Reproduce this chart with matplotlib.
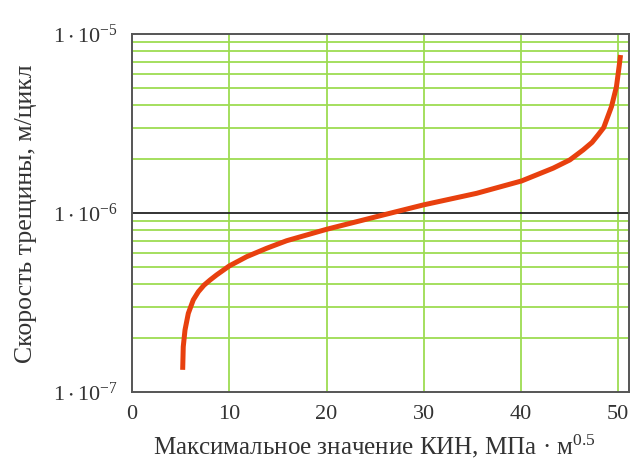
import matplotlib
matplotlib.use("Agg")
import matplotlib.pyplot as plt
from matplotlib.ticker import FixedLocator, NullFormatter

plt.rcParams['font.family'] = ['Liberation Serif', 'DejaVu Serif']
plt.rcParams['mathtext.fontset'] = 'custom'
plt.rcParams['mathtext.rm'] = 'Liberation Serif'
plt.rcParams['mathtext.it'] = 'Liberation Serif'
plt.rcParams['mathtext.default'] = 'regular'

# data
kin = [5.21, 5.27, 5.45, 5.79, 6.30, 6.82, 7.40, 8.02, 8.70, 10.0, 11.79, 13.84, 15.90, 20.01,
       25.83, 29.94, 35.43, 40.05, 43.30, 45.02, 46.38, 47.30, 47.92, 48.50, 49.30, 49.81,
       50.08, 50.23]
rate = [1.33e-7, 1.79e-7, 2.22e-7, 2.75e-7, 3.27e-7, 3.63e-7, 3.95e-7, 4.22e-7, 4.51e-7,
        5.06e-7, 5.70e-7, 6.35e-7, 7.00e-7, 8.11e-7, 9.75e-7, 1.109e-6, 1.288e-6, 1.51e-6,
        1.78e-6, 1.98e-6, 2.25e-6, 2.48e-6, 2.73e-6, 3.0e-6, 3.93e-6, 5.08e-6, 6.56e-6,
        7.63e-6]
x_ticks = [0, 10, 20, 30, 40, 50]
y_ticks = [1e-7, 1e-6, 1e-5]
y_tick_labels = [r'$1\cdot10^{-7}$', r'$1\cdot10^{-6}$', r'$1\cdot10^{-5}$']
x_label = 'Максимальное значение КИН, МПа · м$^{0.5}$'
y_label = 'Скорость трещины, м/цикл'

W, H = 636, 461
fig = plt.figure(figsize=(W / 100, H / 100), dpi=100)
ax = fig.add_axes([132 / W, 1 - 392 / H, (629 - 132) / W, (392 - 34) / H])
ax.set_yscale('log')
ax.set_xlim(0, 51.1)
ax.set_ylim(1e-7, 1e-5)

green = '#9ddc52'
minor = [m * 10.0 ** e for e in (-7, -6) for m in range(2, 10)]
for v in minor:
    ax.axhline(v, color=green, lw=1.3, zorder=1)
for v in x_ticks[1:]:
    ax.axvline(v, color=green, lw=1.3, zorder=1)
ax.axhline(1e-6, color='#222222', lw=1.3, zorder=2)

ax.plot(kin, rate, color='#e8400e', lw=3.6, zorder=3,
        solid_capstyle='butt', solid_joinstyle='round')

ax.set_xticks(x_ticks)
ax.set_xticklabels([str(t) for t in x_ticks])
ax.yaxis.set_major_locator(FixedLocator(y_ticks))
ax.set_yticklabels(y_tick_labels)
ax.yaxis.set_minor_formatter(NullFormatter())
ax.tick_params(axis='both', which='both', length=0, labelsize=16, colors='#333333')
ax.tick_params(axis='x', pad=9)
ax.tick_params(axis='y', pad=10)

for s in ax.spines.values():
    s.set_color('#555555')
    s.set_linewidth(1.4)

fig.text(374 / W, 1 - 454 / H, x_label, fontsize=18, color='#333333',
         ha='center', va='baseline')
fig.text(26 / W, 1 - 214 / H, y_label, fontsize=18.5, color='#333333',
         ha='center', va='center', rotation=90)

fig.savefig('out.png', dpi=100)
